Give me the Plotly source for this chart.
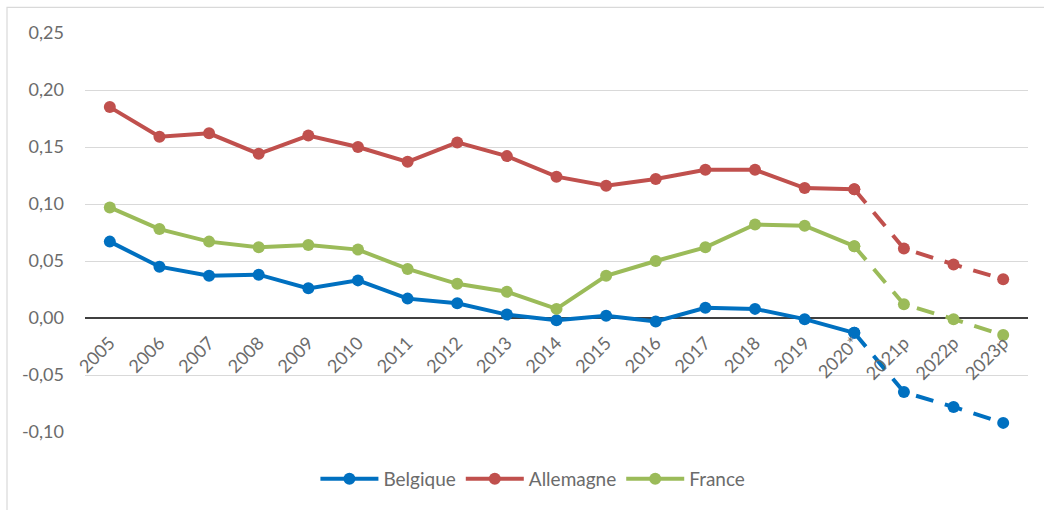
import plotly.graph_objects as go

categories = ["2005", "2006", "2007", "2008", "2009", "2010", "2011", "2012", "2013", "2014",
              "2015", "2016", "2017", "2018", "2019", "2020*", "2021p", "2022p", "2023p"]
belgique = [0.067, 0.045, 0.037, 0.038, 0.026, 0.033, 0.017, 0.013, 0.003, -0.002,
            0.002, -0.003, 0.009, 0.008, -0.001, -0.013, -0.065, -0.078, -0.092]
allemagne = [0.185, 0.159, 0.162, 0.144, 0.160, 0.150, 0.137, 0.154, 0.142, 0.124,
             0.116, 0.122, 0.130, 0.130, 0.114, 0.113, 0.061, 0.047, 0.034]
france = [0.097, 0.078, 0.067, 0.062, 0.064, 0.060, 0.043, 0.030, 0.023, 0.008,
          0.037, 0.050, 0.062, 0.082, 0.081, 0.063, 0.012, -0.001, -0.015]
y_tickvals = [-0.10, -0.05, 0.00, 0.05, 0.10, 0.15, 0.20, 0.25]
y_ticktext = ["-0,10", "-0,05", "0,00", "0,05", "0,10", "0,15", "0,20", "0,25"]
series = [("Belgique", belgique, "#0070C0"),
          ("Allemagne", allemagne, "#C0504D"),
          ("France", france, "#9BBB59")]
split = categories.index("2020*")

fig = go.Figure()
for name, vals, col in series:
    fig.add_trace(go.Scatter(
        x=categories[split:], y=vals[split:], name=name, mode="lines+markers",
        line=dict(color=col, width=4, dash="18px,12px"),
        marker=dict(size=12, color=col),
        legendgroup=name, showlegend=False))
for name, vals, col in series:
    fig.add_trace(go.Scatter(
        x=categories[:split + 1], y=vals[:split + 1], name=name, mode="lines+markers",
        line=dict(color=col, width=4), marker=dict(size=12, color=col),
        legendgroup=name))

L, R, T, B = 85, 16, 33, 73
W, H = 1044, 510
pw, ph = W - L - R, H - T - B
ymin, ymax = -0.10, 0.25
zero_pos = (0 - ymin) / (ymax - ymin)

fig.update_layout(
    width=W, height=H,
    margin=dict(l=L, r=R, t=T, b=B),
    paper_bgcolor="white", plot_bgcolor="white",
    font=dict(family="Lato, Open Sans, sans-serif", size=18, color="#6B6B6B"),
    showlegend=True,
    legend=dict(orientation="h", x=0.475, xanchor="center", y=-0.07, yanchor="top",
                font=dict(size=19, color="#6B6B6B"), itemwidth=58, traceorder="normal"),
    xaxis=dict(type="category", categoryorder="array", categoryarray=categories,
               anchor="free", position=zero_pos, tickangle=-45, showgrid=False,
               showline=False, ticks="", ticklabelstandoff=10,
               tickfont=dict(size=18, color="#6B6B6B"),
               range=[-0.5, len(categories) - 0.5]),
    yaxis=dict(range=[ymin, ymax], tickmode="array", tickvals=y_tickvals, ticktext=y_ticktext,
               showgrid=True, gridcolor="#D9D9D9", gridwidth=1.3, zeroline=True,
               zerolinecolor="#404040", zerolinewidth=1.6, ticks="", ticklen=0,
               ticklabelstandoff=20, tickfont=dict(size=18, color="#6B6B6B"),
               showline=False, automargin=False),
    shapes=[dict(type="rect", xref="paper", yref="paper",
                 x0=(7 - L) / pw, x1=(W + 20 - L) / pw,
                 y0=-(B + 20) / ph, y1=(H - B - 7) / ph,
                 line=dict(color="#D9D9D9", width=1.2), fillcolor="rgba(0,0,0,0)", layer="below")],
)
fig.write_html("out.html", config={"displayModeBar": False},
               post_script="document.body.style.margin='0';")
